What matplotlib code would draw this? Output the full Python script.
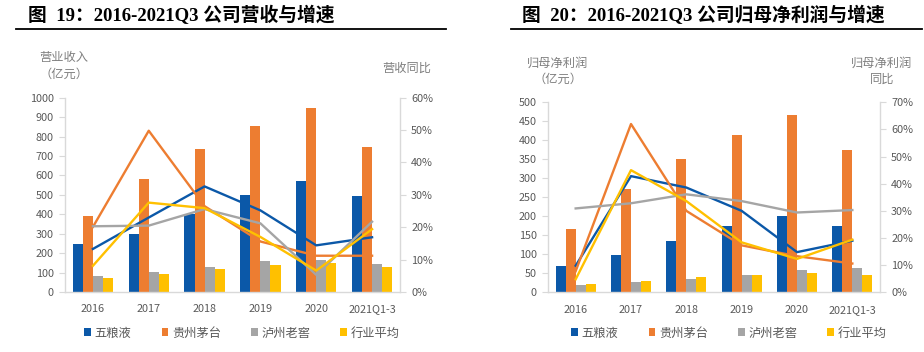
import matplotlib
matplotlib.use("Agg")
import matplotlib.pyplot as plt
import numpy as np
from matplotlib.patches import Patch
from matplotlib.lines import Line2D

plt.rcParams['font.family'] = ['Noto Sans CJK SC', 'DejaVu Sans']

categories = ['2016', '2017', '2018', '2019', '2020', '2021Q1-3']
series_names = ['五粮液', '贵州茅台', '泸州老窖', '行业平均']

# Revenue (亿元)
rev_wly = [245, 301, 400, 501, 573, 496]
rev_mt = [389, 582, 736, 854, 949, 746]
rev_lzlj = [83, 104, 130, 158, 166, 142]
rev_avg = [70, 91, 116, 137, 147, 128]
# Revenue growth (%)
revg_wly = [13.3, 23.0, 32.6, 25.2, 14.4, 16.9]
revg_mt = [20.1, 49.8, 26.5, 15.6, 11.2, 11.2]
revg_lzlj = [20.3, 20.5, 25.6, 21.2, 5.3, 21.7]
revg_avg = [8.1, 27.6, 25.9, 17.0, 6.6, 19.4]

# Net profit (亿元)
np_wly = [68, 97, 134, 174, 200, 174]
np_mt = [167, 271, 352, 413, 467, 374]
np_lzlj = [19, 26, 35, 46, 60, 63]
np_avg = [21, 29, 39, 46, 51, 46]
# Net profit growth (%)
npg_wly = [9.8, 42.8, 38.6, 30.0, 14.8, 19.0]
npg_mt = [7.8, 62.0, 30.0, 17.3, 13.3, 10.6]
npg_lzlj = [30.9, 32.8, 36.1, 33.6, 29.4, 30.3]
npg_avg = [4.8, 45.0, 33.6, 18.4, 12.3, 19.4]

colors = ['#0B58A8', '#ED7D31', '#A5A5A5', '#FFC000']
tick_color = '#595959'
spine_color = '#D9D9D9'

W, H = 924, 352
fig = plt.figure(figsize=(W / 100, H / 100), dpi=100)


def fx(px):
    return px / W


def fy(py):
    return 1 - py / H


def draw_panel(left, right, top, bottom, bars, lines, ylim, yticks, y2lim, y2ticks):
    ax = fig.add_axes([fx(left), fy(bottom), fx(right - left), (bottom - top) / H])
    x = np.arange(len(categories))
    bw = 0.18
    for i, vals in enumerate(bars):
        ax.bar(x + (i - 1.5) * bw, vals, width=bw, color=colors[i], zorder=2)
    ax.set_xlim(-0.5, len(categories) - 0.5)
    ax.set_ylim(*ylim)
    ax.set_yticks(yticks)
    ax.set_xticks(x)
    ax.set_xticklabels(categories)
    for s in ['top', 'right']:
        ax.spines[s].set_visible(False)
    for s in ['left', 'bottom']:
        ax.spines[s].set_color(spine_color)
        ax.spines[s].set_linewidth(1.0)
    ax.tick_params(axis='y', colors=spine_color, labelcolor=tick_color, labelsize=7.8,
                   length=4, width=0.8, pad=4)
    ax.tick_params(axis='x', labelcolor=tick_color, labelsize=7.8, length=0, pad=9)
    ax2 = ax.twinx()
    for i, vals in enumerate(lines):
        ax2.plot(x, vals, color=colors[i], lw=1.7, zorder=3)
    ax2.set_ylim(*y2lim)
    ax2.set_yticks(y2ticks)
    ax2.set_yticklabels([f'{int(t)}%' for t in y2ticks])
    for s in ['top', 'left', 'bottom']:
        ax2.spines[s].set_visible(False)
    ax2.spines['right'].set_color(spine_color)
    ax2.spines['right'].set_linewidth(1.0)
    ax2.tick_params(axis='y', colors=spine_color, labelcolor=tick_color, labelsize=7.8,
                    length=4, width=0.8, pad=4)
    return ax, ax2


# Left panel
draw_panel(65, 400, 97.7, 292,
           [rev_wly, rev_mt, rev_lzlj, rev_avg],
           [revg_wly, revg_mt, revg_lzlj, revg_avg],
           (0, 1000), np.arange(0, 1001, 100),
           (0, 60), np.arange(0, 61, 10))

# Right panel
draw_panel(548, 880, 102.3, 292.3,
           [np_wly, np_mt, np_lzlj, np_avg],
           [npg_wly, npg_mt, npg_lzlj, npg_avg],
           (0, 500), np.arange(0, 501, 50),
           (0, 70), np.arange(0, 71, 10))

# Titles
title_fam = ['Liberation Serif', 'Noto Sans CJK SC']
fig.text(fx(28), fy(15), '图  19：2016-2021Q3 公司营收与增速', family=title_fam,
         fontweight='bold', fontsize=13.5, ha='left', va='center', color='black')
fig.text(fx(522), fy(15), '图  20：2016-2021Q3 公司归母净利润与增速', family=title_fam,
         fontweight='bold', fontsize=13.5, ha='left', va='center', color='black')
fig.add_artist(Line2D([fx(16), fx(446)], [fy(28.5), fy(28.5)], color='black', lw=1.3))
fig.add_artist(Line2D([fx(511), fx(922)], [fy(28.5), fy(28.5)], color='black', lw=1.3))

# Axis titles
lab_color = '#7F7F7F'
fig.text(fx(64), fy(66), '营业收入\n（亿元）', ha='center', va='center', fontsize=8.8,
         color=lab_color, linespacing=1.35)
fig.text(fx(407), fy(68), '营收同比', ha='center', va='center', fontsize=8.8, color=lab_color)
fig.text(fx(558), fy(71), '归母净利润\n（亿元）', ha='center', va='center', fontsize=8.8,
         color=lab_color, linespacing=1.35)
fig.text(fx(882), fy(71), '归母净利润\n同比', ha='center', va='center', fontsize=8.8,
         color=lab_color, linespacing=1.35)

# Legends
handles = [Patch(facecolor=c, edgecolor='none') for c in colors]
for cx in (242, 729):
    fig.legend(handles, series_names, loc='center', bbox_to_anchor=(fx(cx), fy(333)),
               ncol=4, frameon=False, fontsize=8.8, handlelength=0.55, handleheight=0.55,
               handletextpad=0.3, columnspacing=2.45, labelcolor=tick_color,
               borderpad=0, borderaxespad=0)

fig.savefig('out.png', dpi=100)
